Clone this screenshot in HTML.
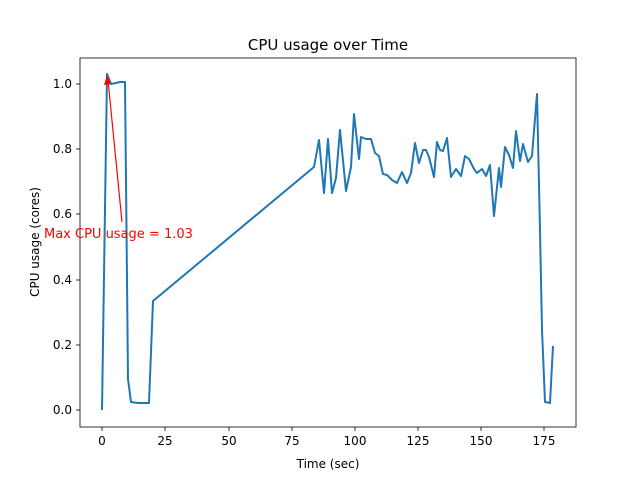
<!DOCTYPE html><html><head><style>body{margin:0;background:#fff}svg{display:block;font-family:"DejaVu Sans","Liberation Sans",sans-serif}</style></head><body>
<svg width="640" height="480" viewBox="0 0 640 480">
<rect x="80" y="58" width="496" height="369" fill="none" stroke="#000" stroke-width="0.8"/>
<polyline fill="none" stroke="#1f77b4" stroke-width="2" stroke-linejoin="round" points="102,410 107,74 111,84 116,83 120,82 125,82 128,379 131,402 138,403 149,403 153,301 314,167 319,140 324,193 328,139 332,193 336,178 340,130 346,191 351,167 354,114 359,159 361,137 366,139 371,139 375,153 379,156 383,174 387,175 392,180 397,183 402,172 407,183 411,173 415,143 419,163 423,150 426,150 429,157 434,177 437,142 440,150 443,151 447,138 451,177 456,169 461,176 465,156 469,159 474,169 477,173 482,169 486,176 490,165 494,216 499,168 501,187 505,147 509,155 513,168 516,131 520,161 523,144 528,162 532,156 537,94 540,230 542,330 545,402 550,403 553,346"/>
<line x1="122" y1="222" x2="108" y2="80" stroke="red" stroke-width="1.2"/>
<polygon points="107,75 104,85 111,84" fill="red"/>
<text x="44" y="238" font-size="13" fill="red">Max CPU usage = 1.03</text>
<g font-size="12" text-anchor="middle" fill="#000">
<g stroke="#000" stroke-width="0.8">
<line x1="102" y1="427" x2="102" y2="431"/><line x1="165" y1="427" x2="165" y2="431"/><line x1="229" y1="427" x2="229" y2="431"/><line x1="292" y1="427" x2="292" y2="431"/><line x1="355" y1="427" x2="355" y2="431"/><line x1="418" y1="427" x2="418" y2="431"/><line x1="481" y1="427" x2="481" y2="431"/><line x1="544" y1="427" x2="544" y2="431"/>
<line x1="76" y1="410" x2="80" y2="410"/><line x1="76" y1="345" x2="80" y2="345"/><line x1="76" y1="280" x2="80" y2="280"/><line x1="76" y1="214" x2="80" y2="214"/><line x1="76" y1="149" x2="80" y2="149"/><line x1="76" y1="84" x2="80" y2="84"/>
</g>
<text x="102" y="445">0</text><text x="165" y="445">25</text><text x="229" y="445">50</text><text x="292" y="445">75</text><text x="355" y="445">100</text><text x="418" y="445">125</text><text x="481" y="445">150</text><text x="544" y="445">175</text>
<g text-anchor="end"><text x="72" y="414">0.0</text><text x="72" y="349">0.2</text><text x="72" y="284">0.4</text><text x="72" y="218">0.6</text><text x="72" y="153">0.8</text><text x="72" y="88">1.0</text></g>
<text x="328" y="468">Time (sec)</text>
<text transform="translate(39,242) rotate(-90)">CPU usage (cores)</text>
<text x="328" y="50" font-size="15">CPU usage over Time</text>
</g>
</svg></body></html>
